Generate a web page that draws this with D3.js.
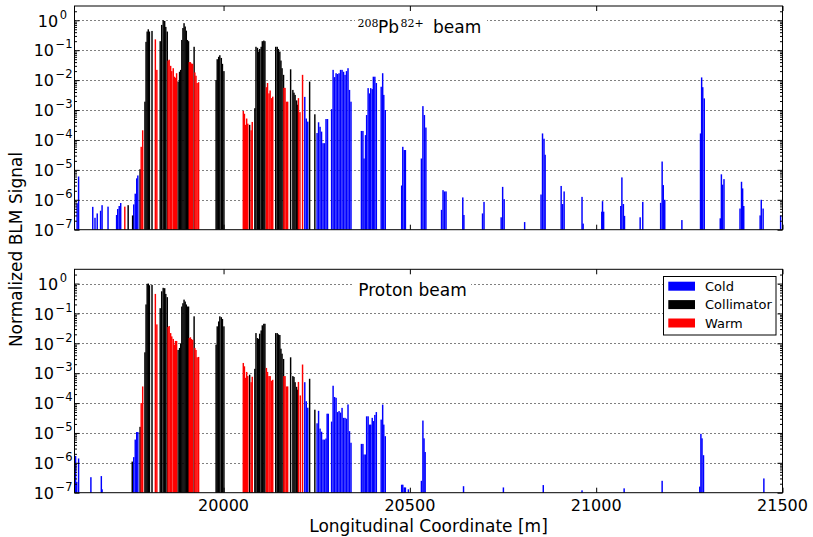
<!DOCTYPE html>
<html><head><meta charset="utf-8">
<script src="https://cdn.jsdelivr.net/npm/d3@7"></script>
<style>body{margin:0;background:#fff;} svg{display:block;font-family:"DejaVu Sans",sans-serif;}</style>
</head><body><svg id="c" width="813" height="537"></svg>
<script>
// ---------------- data: [longitudinal coordinate (m), normalized BLM signal] ----------------
const pbCold = [
 [19607,7.7e-7],[19611,6e-6],[19649,5.8e-7],[19655,2.5e-7],[19661,3.5e-7],[19670,4.3e-7],[19674,6.6e-7],[19690,5.9e-7],
 [19713,3.1e-7],[19716,4.9e-7],[19720,6.2e-7],[19724,7.8e-7],
 [19759,7e-7],[19763,1.6e-6],[19767,5.2e-6],[19770,6.5e-6],
 [20218,2.75e-3],[20222,5.2e-4],[20226,4.1e-4],
 [20251,1.7e-4],[20255,3.9e-4],[20259,2.75e-4],[20263,1.9e-4],[20267,7.8e-5],[20271,7.8e-5],[20275,5e-4],[20279,5e-4],
 [20290,1.07e-3],[20294,0.022],[20298,0.0126],[20302,0.017],[20306,0.016],[20310,0.017],[20314,0.022],[20318,0.022],[20322,0.019],[20326,0.015],[20330,0.02],[20334,0.025],[20338,4.7e-3],[20342,1.9e-3],
 [20370,2e-4],[20374,2e-4],[20377,2.4e-5],[20381,1.45e-4],[20384,6.8e-4],[20388,5.4e-3],[20392,3.6e-3],[20395,5.4e-3],[20399,5e-3],[20402,0.013],[20406,0.013],[20410,8e-3],
 [20423,6e-3],[20427,0.017],[20430,3.2e-3],[20434,1e-3],
 [20478,3e-6],[20481,5.9e-5],[20485,4.6e-5],[20488,4.6e-5],
 [20531,2.4e-5],[20535,1.35e-3],[20539,6.8e-4],[20543,2.6e-4],
 [20585,4.6e-7],[20589,2.1e-6],[20593,1.9e-6],[20597,1.9e-6],
 [20642,1.2e-6],[20645,3.1e-7],
 [20695,3.5e-7],[20699,8.5e-7],
 [20745,2.6e-7],[20749,2.7e-6],[20753,1.05e-6],
 [20808,1.8e-7],
 [20852,1.5e-6],[20856,1.65e-4],[20860,1.1e-4],[20863,3.2e-5],
 [20906,2.9e-6],[20910,7.2e-7],[20914,1.9e-6],
 [20962,1.25e-6],[20965,1.6e-7],
 [21015,4e-7],[21017,9e-7],[21020,4e-7],
 [21066,6.2e-7],[21069,5.6e-6],[21073,7.2e-7],[21076,2.9e-7],
 [21118,2.6e-7],[21125,8.5e-7],
 [21173,7.9e-7],[21177,1.9e-5],[21180,3.1e-6],[21184,1e-6],
 [21230,2.1e-7],
 [21280,1.65e-4],[21283,0.0123],[21286,5.8e-3],[21290,2.45e-3],
 [21333,2.4e-7],[21336,7.1e-6],[21339,3.2e-6],[21343,4.9e-6],
 [21386,5.1e-7],[21390,4e-6],[21393,2.4e-6],[21396,6.2e-7],
 [21440,3e-7],[21443,1e-6],[21448,5.1e-7],
 [21495,3e-7]
];
const pbColl = [
 [19744,6.6e-7],[19756,3e-7],[19776,1.05e-5],
 [19789,1.9e-3],[19792,0.19],[19795,0.42],[19798,0.5],[19801,0.42],[19808,0.44],
 [19830,0.2],[19834,0.7],[19838,1.0],[19842,0.95],[19845,0.6],[19849,0.42],
 [19878,0.009],[19882,0.019],[19885,0.022],[19888,0.22],[19891,0.55],[19894,0.8],[19897,0.62],[19900,0.45],[19903,0.22],[19906,0.2],
 [19921,0.13],
 [19980,0.01],[19983,0.05],[19987,0.06],[19990,0.068],[19994,0.055],[19997,0.035],[20001,0.02],
 [20070,3.2e-4],
 [20084,1.15e-3],[20087,0.13],[20091,0.12],[20094,0.09],[20097,0.11],[20101,0.13],[20104,0.2],[20108,0.21],[20111,0.2],
 [20140,0.13],[20144,0.13],[20147,0.11],[20151,0.09],[20154,0.045],[20157,0.025],[20161,0.015],
 [20180,0.023],
 [20186,4.7e-3],[20189,3.8e-3],[20192,3.2e-3],[20196,2.1e-3],[20199,1.5e-3],
 [20231,8.9e-3],[20245,7.2e-4]
];
const pbWarm = [
 [19735,5.9e-7],[19779,5.9e-5],[19783,2.1e-4],
 [19817,0.23],[19821,0.022],
 [19851,0.045],[19854,0.048],[19858,0.03],[19861,0.02],[19865,0.025],[19868,0.013],[19871,0.012],[19874,0.017],
 [19908,0.04],[19911,0.04],[19914,0.036],[19917,0.035],
 [19923,0.018],[19926,0.014],[19929,0.008],[19933,0.0085],
 [20053,9.3e-4],[20056,7.5e-4],[20059,3.2e-4],[20062,5.2e-4],[20065,3.5e-4],[20074,2.1e-4],[20077,4e-4],
 [20115,5.8e-3],[20118,8e-3],[20122,3.6e-3],[20125,4.5e-3],[20129,2.5e-3],[20132,2.8e-3],
 [20162,5.5e-3],[20165,5.5e-3],[20169,1.9e-3],[20172,1.9e-3],
 [20201,2.5e-3],[20205,8.5e-4],
 [20212,0.015]
];
const pCold = [
 [19603,1.7e-6],[19606,2.3e-7],[19611,1.4e-6],[19644,3.3e-7],[19672,3.6e-7],[19674,1.3e-7],
 [19759,1.55e-6],[19763,6e-6],[19767,1.07e-5],[19770,1.07e-5],
 [20218,5e-4],[20222,1.15e-4],[20226,7e-5],
 [20251,2.1e-5],[20255,5.5e-5],[20259,1.4e-5],[20263,1.1e-5],[20267,6e-6],[20271,6e-6],[20275,6.5e-6],[20278,4.4e-5],[20281,4.4e-5],
 [20290,2.4e-5],[20294,3.8e-4],[20298,1.6e-4],[20302,1.5e-4],[20306,5e-5],[20310,5.4e-5],[20314,4.8e-5],[20318,6.9e-5],[20322,3.2e-5],[20326,3.2e-5],[20330,3e-5],[20334,9e-5],[20338,1.15e-5],[20342,4.7e-6],
 [20370,4.3e-6],[20374,4.3e-6],[20377,1.9e-6],[20381,1.9e-6],[20384,3.6e-5],[20388,3.6e-5],[20392,1.9e-5],[20395,1.9e-5],[20399,3.2e-5],[20402,2.5e-5],[20406,4e-5],[20410,5e-5],
 [20423,2.8e-5],[20427,8.9e-5],[20430,1.9e-5],[20434,7.8e-6],
 [20478,1.85e-7],[20481,1.85e-7],[20485,1.5e-7],[20488,1.5e-7],[20496,1.3e-7],
 [20531,2.5e-7],[20535,2.6e-5],[20538,6.6e-6],[20541,2.3e-6],
 [20644,1.65e-7],[20751,1.5e-7],[20858,1.8e-7],[20962,1.2e-7],[21075,1.4e-7],[21177,2.5e-7],
 [21278,1.6e-7],[21281,9.3e-6],[21284,6.6e-6],[21288,1.8e-6],
 [21450,3e-7]
];
const pColl = [
 [19755,1.1e-6],[19776,1.6e-5],
 [19789,5e-3],[19792,0.2],[19795,0.98],[19798,1.0],[19801,0.88],[19808,0.9],
 [19830,0.15],[19834,0.55],[19838,0.72],[19842,0.7],[19845,0.45],[19849,0.35],
 [19878,0.006],[19882,0.007],[19885,0.01],[19888,0.17],[19891,0.22],[19894,0.29],[19897,0.25],[19900,0.2],[19903,0.17],[19906,0.17],
 [19921,0.08],
 [19980,9e-3],[19983,0.037],[19987,0.054],[19990,0.08],[19994,0.075],[19997,0.065],[20001,0.037],
 [20070,8.9e-4],
 [20084,1.4e-3],[20087,0.022],[20091,0.015],[20094,0.014],[20097,0.021],[20101,0.027],[20104,0.04],[20108,0.045],[20111,0.045],
 [20140,0.022],[20144,0.022],[20147,0.02],[20151,0.019],[20154,0.0066],[20157,0.0045],[20161,0.003],
 [20180,3.4e-3],
 [20186,8e-4],[20189,7.5e-4],[20192,5e-4],[20196,3.5e-4],[20199,2.8e-4],
 [20231,6.5e-4],[20245,6e-5]
];
const pWarm = [
 [19779,1e-4],[19783,3.6e-4],
 [19817,0.45],[19821,0.043],
 [19851,0.035],[19854,0.038],[19858,0.022],[19861,0.017],[19865,0.014],[19868,0.009],[19871,0.012],[19874,0.012],
 [19908,0.015],[19911,0.016],[19914,0.014],[19917,0.013],
 [19923,0.007],[19926,0.006],[19929,0.0034],[19933,0.0035],
 [20053,2.2e-3],[20056,1.7e-3],[20059,7e-4],[20062,1.1e-3],[20065,8e-4],[20074,5e-4],[20077,7.6e-4],
 [20115,1.5e-3],[20118,1.1e-3],[20122,8e-4],[20125,8e-4],[20129,5.6e-4],[20132,6e-4],
 [20162,8e-4],[20165,8e-4],[20169,3.6e-4],[20172,3.6e-4],
 [20201,5.1e-4],[20206,1.8e-4],
 [20212,1.95e-3]
];
const categories = ["Cold","Collimator","Warm"];
const catColors = ["#0000ff","#000000","#ff0000"];
const xTicks = [20000,20500,21000,21500];
const yExponents = [0,-1,-2,-3,-4,-5,-6,-7];
const xDomain = [19600,21500];
const yDomain = [1e-7,3];
const barWidth = 3.9;

// ---------------- drawing ----------------
const svg = d3.select("#c");
const L = 74.5, R = 782.5;
const x = d3.scaleLinear().domain(xDomain).range([L,R]);

const panels = [
  {top:6, bottom:229.7, series:[pbCold,pbColl,pbWarm], showX:false},
  {top:269.3, bottom:492.7, series:[pCold,pColl,pWarm], showX:true}
];

const minors = [];
for (let e=-7;e<0;e++) for (let m=2;m<=9;m++) { const v=m*Math.pow(10,e); if(v<=yDomain[1]) minors.push(v);}
minors.push(2);

panels.forEach((p,pi)=>{
  const y = d3.scaleLog().domain(yDomain).range([p.bottom,p.top]);
  p.y = y;
  const g = svg.append("g");
  // grid
  g.selectAll("line.grid").data(yExponents.filter(e=>e>-7)).enter().append("line")
    .attr("x1",L).attr("x2",R)
    .attr("y1",e=>Math.round(y(Math.pow(10,e)))+0.5).attr("y2",e=>Math.round(y(Math.pow(10,e)))+0.5)
    .attr("stroke","#000").attr("stroke-width",1).attr("stroke-dasharray","1,3");
  // bars
  p.series.forEach((ser,ci)=>{
    g.append("g").selectAll("rect").data(ser).enter().append("rect")
      .attr("x",d=>x(d[0]-barWidth/2))
      .attr("width",d=>x(d[0]+barWidth/2)-x(d[0]-barWidth/2))
      .attr("y",d=>y(d[1]))
      .attr("height",d=>y(yDomain[0])-y(d[1]))
      .attr("fill",catColors[ci]);
  });
  // axes (inward ticks)
  const majors = yExponents.map(e=>Math.pow(10,e));
  const axes = svg.append("g");
  axes.append("g").attr("transform",`translate(${L},0)`).call(d3.axisLeft(y).tickValues(majors).tickSize(-5).tickFormat(""));
  axes.append("g").attr("transform",`translate(${L},0)`).call(d3.axisLeft(y).tickValues(minors).tickSize(-2.5).tickFormat(""));
  axes.append("g").attr("transform",`translate(${R},0)`).call(d3.axisRight(y).tickValues(majors).tickSize(-5).tickFormat(""));
  axes.append("g").attr("transform",`translate(${R},0)`).call(d3.axisRight(y).tickValues(minors).tickSize(-2.5).tickFormat(""));
  axes.append("g").attr("transform",`translate(0,${p.top})`).call(d3.axisTop(x).tickValues(xTicks).tickSize(-5).tickFormat(""));
  axes.append("g").attr("transform",`translate(0,${p.bottom})`).call(d3.axisBottom(x).tickValues(xTicks).tickSize(-5).tickFormat(""));
  axes.selectAll(".domain").remove();
  axes.selectAll(".tick line").attr("stroke","#000");
  svg.append("rect").attr("x",L).attr("y",p.top).attr("width",R-L).attr("height",p.bottom-p.top)
    .attr("fill","none").attr("stroke","#000").attr("stroke-width",1);

  // y tick labels 10^n
  yExponents.forEach(e=>{
    const t = svg.append("text").attr("x", e===0?67:72.5).attr("y", y(Math.pow(10,e))+6.3)
      .attr("text-anchor","end").attr("font-size",16).attr("fill","#000");
    t.append("tspan").text("10");
    t.append("tspan").attr("dy",-8).attr("dx",1.5).attr("font-size",11.5).text(e===0?"0":"\u2212"+(-e));
  });
  if (p.showX){
    xTicks.forEach(v=>{
      svg.append("text").attr("x",x(v)).attr("y",p.bottom+18).attr("text-anchor","middle")
        .attr("font-size",16).text(v);
    });
  }
});

// panel titles
{
  svg.append("rect").attr("x",355).attr("y",13).attr("width",132).attr("height",24).attr("fill","#fff");
  const t = svg.append("text").attr("y",33.3).attr("font-size",17);
  t.append("tspan").attr("x",357.5).attr("dy",-6).attr("font-family","DejaVu Serif").attr("font-size",11).text("208");
  t.append("tspan").attr("x",378).attr("dy",6).text("Pb");
  t.append("tspan").attr("x",400.5).attr("dy",-6).attr("font-family","DejaVu Serif").attr("font-size",11).text("82+");
  t.append("tspan").attr("x",433).attr("dy",6).text("beam");
}
{
  svg.append("rect").attr("x",354).attr("y",278).attr("width",117).attr("height",22).attr("fill","#fff");
  svg.append("text").attr("x",358.3).attr("y",296.3).attr("font-size",17).text("Proton beam");
}

// legend
{
  const lg = svg.append("g");
  lg.append("rect").attr("x",663.5).attr("y",276.5).attr("width",112.5).attr("height",58.5)
    .attr("fill","#fff").attr("stroke","#000").attr("stroke-width",1);
  categories.forEach((c,i)=>{
    const cy = 286.2 + i*18.4;
    lg.append("rect").attr("x",668.3).attr("y",cy-4.5).attr("width",26.7).attr("height",9).attr("fill",catColors[i]);
    lg.append("text").attr("x",705).attr("y",cy+4.6).attr("font-size",13).text(c);
  });
}

// axis labels
svg.append("text").attr("x",(L+R)/2).attr("y",532).attr("text-anchor","middle").attr("font-size",17)
  .text("Longitudinal Coordinate [m]");
svg.append("text").attr("transform","translate(21.5,249.5) rotate(-90)").attr("text-anchor","middle")
  .attr("font-size",17).text("Normalized BLM Signal");
</script></body></html>
